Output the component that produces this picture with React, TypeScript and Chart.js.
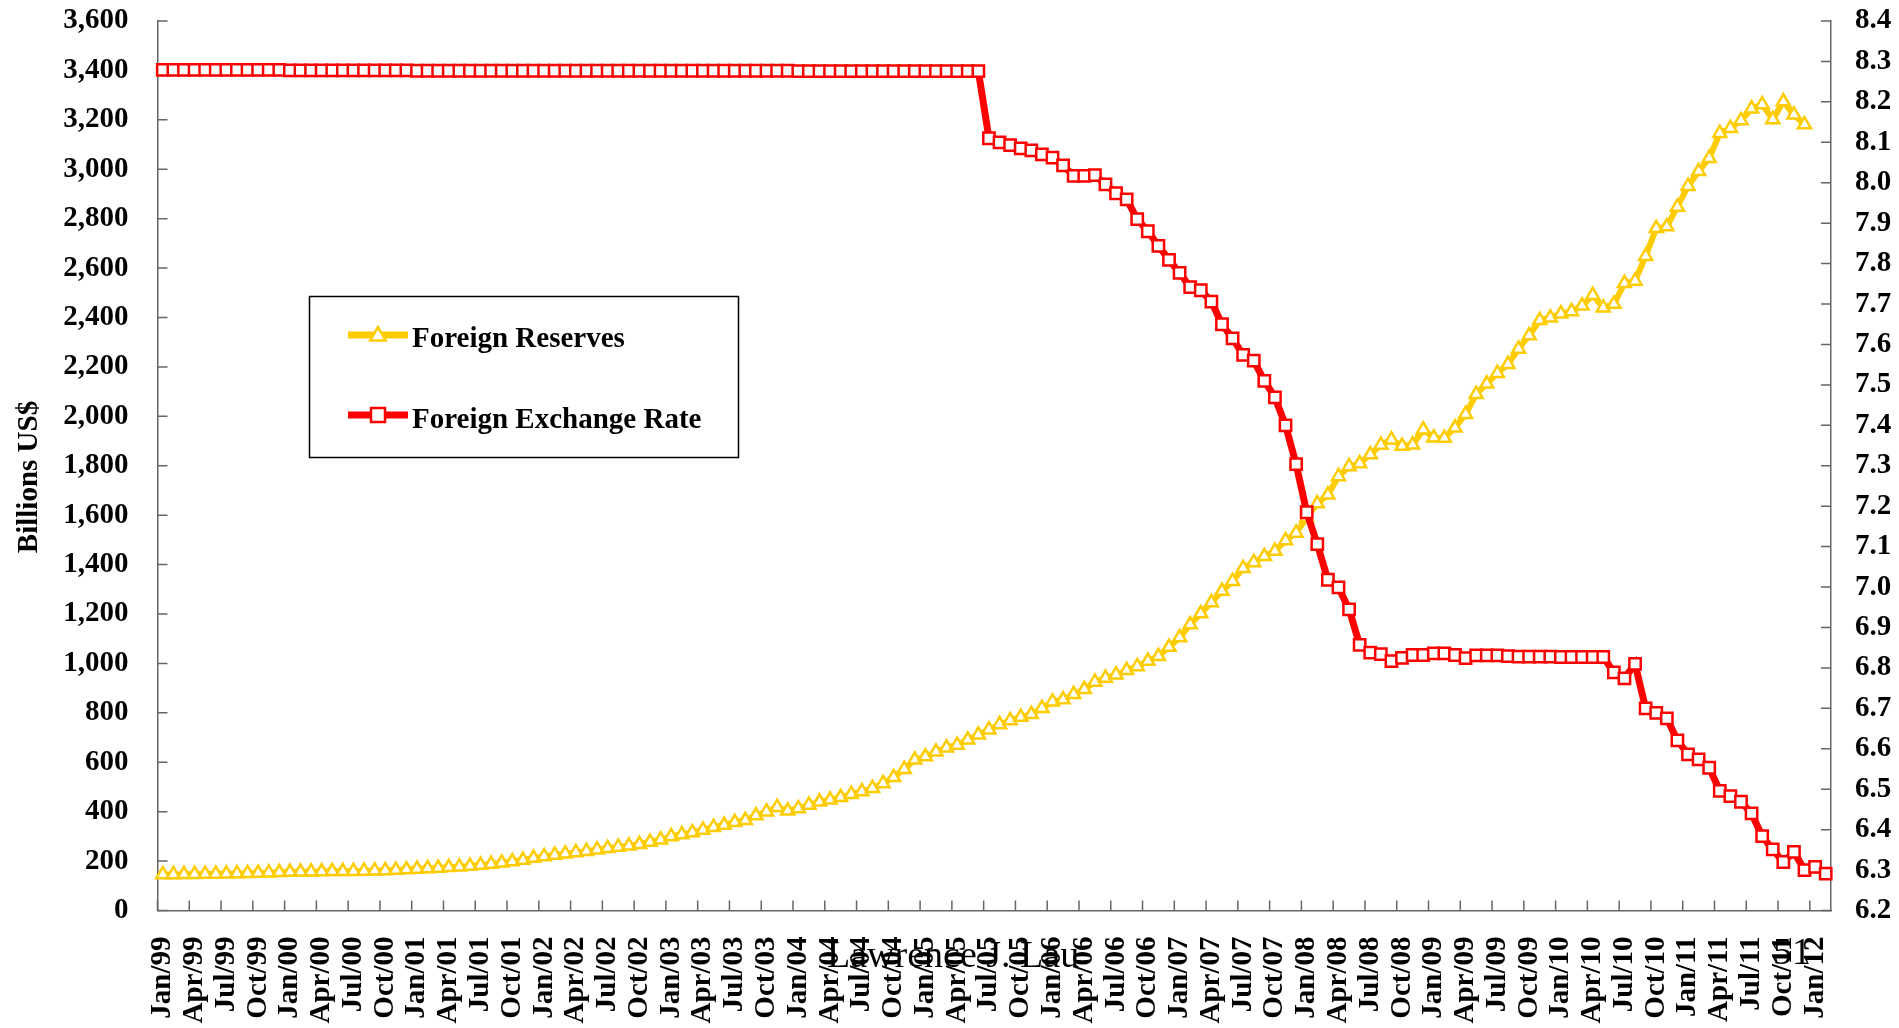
import React, { useEffect, useRef } from 'react';
import { Chart, registerables } from 'chart.js';

Chart.register(...registerables);

// ---------- data ----------
const categories: string[] = [
  'Jan/99','Feb/99','Mar/99','Apr/99','May/99','Jun/99','Jul/99','Aug/99','Sep/99','Oct/99','Nov/99','Dec/99',
  'Jan/00','Feb/00','Mar/00','Apr/00','May/00','Jun/00','Jul/00','Aug/00','Sep/00','Oct/00','Nov/00','Dec/00',
  'Jan/01','Feb/01','Mar/01','Apr/01','May/01','Jun/01','Jul/01','Aug/01','Sep/01','Oct/01','Nov/01','Dec/01',
  'Jan/02','Feb/02','Mar/02','Apr/02','May/02','Jun/02','Jul/02','Aug/02','Sep/02','Oct/02','Nov/02','Dec/02',
  'Jan/03','Feb/03','Mar/03','Apr/03','May/03','Jun/03','Jul/03','Aug/03','Sep/03','Oct/03','Nov/03','Dec/03',
  'Jan/04','Feb/04','Mar/04','Apr/04','May/04','Jun/04','Jul/04','Aug/04','Sep/04','Oct/04','Nov/04','Dec/04',
  'Jan/05','Feb/05','Mar/05','Apr/05','May/05','Jun/05','Jul/05','Aug/05','Sep/05','Oct/05','Nov/05','Dec/05',
  'Jan/06','Feb/06','Mar/06','Apr/06','May/06','Jun/06','Jul/06','Aug/06','Sep/06','Oct/06','Nov/06','Dec/06',
  'Jan/07','Feb/07','Mar/07','Apr/07','May/07','Jun/07','Jul/07','Aug/07','Sep/07','Oct/07','Nov/07','Dec/07',
  'Jan/08','Feb/08','Mar/08','Apr/08','May/08','Jun/08','Jul/08','Aug/08','Sep/08','Oct/08','Nov/08','Dec/08',
  'Jan/09','Feb/09','Mar/09','Apr/09','May/09','Jun/09','Jul/09','Aug/09','Sep/09','Oct/09','Nov/09','Dec/09',
  'Jan/10','Feb/10','Mar/10','Apr/10','May/10','Jun/10','Jul/10','Aug/10','Sep/10','Oct/10','Nov/10','Dec/10',
  'Jan/11','Feb/11','Mar/11','Apr/11','May/11','Jun/11','Jul/11','Aug/11','Sep/11','Oct/11','Nov/11','Dec/11',
  'Jan/12','Feb/12',
];

// Foreign reserves, billions US$ (Jan/99 - Dec/11)
const foreignReserves: number[] = [
  146.0, 146.0, 146.5, 147.0, 147.5, 148.0, 148.5, 149.5, 150.5, 151.5, 153.0, 154.7,
  155.5, 156.5, 157.0, 157.8, 158.5, 158.6, 159.0, 160.0, 161.0, 162.0, 163.5, 165.6,
  168, 170, 172, 175, 177, 180, 184, 188, 193, 198, 204, 212.2,
  219, 225, 230, 235, 240, 246, 252, 257, 262, 268, 277, 286.4,
  300, 308, 316, 326, 337, 346, 357, 365, 384, 400, 418, 403.3,
  413, 427, 439.8, 448, 458, 470.6, 482, 495, 514.5, 539, 572, 609.9,
  623, 642, 659.1, 670, 691, 711, 732, 753, 769, 783, 794, 818.9,
  845, 853.7, 875.1, 895, 925, 941.1, 954.5, 972, 987.9, 1009.6, 1029, 1066.3,
  1104.6, 1157.4, 1202, 1246.6, 1292.7, 1332.6, 1385.2, 1408.6, 1433.6, 1454.9, 1497, 1528.2,
  1589.8, 1647.1, 1682.2, 1756.7, 1797, 1808.8, 1845.2, 1884.2, 1905.6, 1879.7, 1884.7, 1946,
  1913.5, 1912.1, 1953.7, 2008.9, 2089.5, 2131.6, 2174.6, 2210.9, 2272.6, 2327.3, 2388.8, 2399.2,
  2415.2, 2424.6, 2447.1, 2490.5, 2439.5, 2454.3, 2538.4, 2547.8, 2648.3, 2760.9, 2767.8, 2847.3,
  2931.7, 2991.4, 3044.7, 3145.7, 3166.4, 3197.5, 3245.3, 3262.5, 3201.7, 3273.8, 3220.9, 3181.1,
];

// Foreign exchange rate, RMB per US$ (Jan/99 - Feb/12)
const exchangeRate: number[] = [
  8.279, 8.279, 8.279, 8.279, 8.279, 8.279, 8.279, 8.279, 8.279, 8.279, 8.279, 8.279,
  8.278, 8.278, 8.278, 8.278, 8.278, 8.278, 8.278, 8.278, 8.278, 8.278, 8.278, 8.278,
  8.277, 8.277, 8.277, 8.277, 8.277, 8.277, 8.277, 8.277, 8.277, 8.277, 8.277, 8.277,
  8.277, 8.277, 8.277, 8.277, 8.277, 8.277, 8.277, 8.277, 8.277, 8.277, 8.277, 8.277,
  8.277, 8.277, 8.277, 8.277, 8.277, 8.277, 8.277, 8.277, 8.277, 8.277, 8.277, 8.277,
  8.276, 8.276, 8.276, 8.276, 8.276, 8.276, 8.276, 8.276, 8.276, 8.276, 8.276, 8.276,
  8.276, 8.276, 8.276, 8.276, 8.276, 8.276, 8.11, 8.10, 8.093, 8.085, 8.08, 8.07,
  8.062, 8.043, 8.017, 8.017, 8.019, 7.996, 7.974, 7.959, 7.91, 7.88, 7.844, 7.809,
  7.777, 7.742, 7.734, 7.706, 7.65, 7.615, 7.574, 7.56, 7.51, 7.469, 7.40, 7.304,
  7.185, 7.106, 7.018, 6.999, 6.945, 6.857, 6.838, 6.834, 6.817, 6.825, 6.832, 6.832,
  6.836, 6.836, 6.832, 6.824, 6.831, 6.831, 6.831, 6.829, 6.828, 6.828, 6.828, 6.828,
  6.827, 6.827, 6.827, 6.827, 6.827, 6.789, 6.774, 6.81, 6.70, 6.689, 6.675, 6.621,
  6.586, 6.574, 6.553, 6.496, 6.483, 6.469, 6.44, 6.384, 6.351, 6.32, 6.345, 6.30,
  6.308, 6.291,
];

const seriesNames = ['Foreign Reserves', 'Foreign Exchange Rate'];
const leftAxisTitle = 'Billions US$';
const footerTexts = ['Lawrence J. Lau', '51'];
const TICK_EVERY = 3;

// ---------- styles ----------
const W = 1899;
const H = 1028;
const AREA_TOP = 21;
const AREA_BOTTOM = 910.5;
const AREA_LEFT = 157.5;
const AREA_RIGHT = 1831;
const FONT = '"Liberation Serif", "Times New Roman", Times, serif';
const GOLD = '#FFCC00';
const RED = '#FF0000';
const AXIS = '#666666';

function drawTriangle(ctx: CanvasRenderingContext2D, x: number, y: number, r: number) {
  ctx.beginPath();
  let rad = 0;
  ctx.moveTo(x + Math.sin(rad) * r, y - Math.cos(rad) * r);
  rad += (2 * Math.PI) / 3;
  ctx.lineTo(x + Math.sin(rad) * r, y - Math.cos(rad) * r);
  rad += (2 * Math.PI) / 3;
  ctx.lineTo(x + Math.sin(rad) * r, y - Math.cos(rad) * r);
  ctx.closePath();
}

const noPadding = (s: any) => {
  s.paddingTop = 0;
  s.paddingBottom = 0;
  s.paddingLeft = 0;
  s.paddingRight = 0;
};

const overlayPlugin = {
  id: 'overlay',
  beforeDatasetsDraw(chart: any) {
    const { ctx, chartArea: a, scales } = chart;
    const xs = scales.x;
    const yl = scales.y;
    const yr = scales.y1;
    ctx.save();
    ctx.strokeStyle = AXIS;
    ctx.lineWidth = 1.5;
    ctx.beginPath();
    const half = (xs.getPixelForValue(1) - xs.getPixelForValue(0)) / 2;
    for (let i = 0; i <= categories.length; i += TICK_EVERY) {
      const px = xs.getPixelForValue(i) - half;
      ctx.moveTo(px, a.bottom);
      ctx.lineTo(px, a.bottom - 10);
    }
    yl.ticks.forEach((t: any) => {
      const py = yl.getPixelForValue(t.value);
      ctx.moveTo(a.left, py);
      ctx.lineTo(a.left + 10, py);
    });
    yr.ticks.forEach((t: any) => {
      const py = yr.getPixelForValue(t.value);
      ctx.moveTo(a.right, py);
      ctx.lineTo(a.right - 10, py);
    });
    ctx.stroke();
    ctx.restore();
  },
  afterDraw(chart: any) {
    const { ctx } = chart;
    ctx.save();
    // y-axis title
    ctx.fillStyle = '#000';
    ctx.font = `bold 29px ${FONT}`;
    ctx.textAlign = 'center';
    ctx.textBaseline = 'alphabetic';
    ctx.translate(37, 477);
    ctx.rotate(-Math.PI / 2);
    ctx.fillText(leftAxisTitle, 0, 0);
    ctx.setTransform(1, 0, 0, 1, 0, 0);

    // legend box
    const bx = 309.5, by = 296.5, bw = 429, bh = 161;
    ctx.fillStyle = '#fff';
    ctx.fillRect(bx, by, bw, bh);
    ctx.strokeStyle = '#000';
    ctx.lineWidth = 1.5;
    ctx.strokeRect(bx, by, bw, bh);

    const ly1 = 335;
    ctx.strokeStyle = GOLD;
    ctx.lineWidth = 7;
    ctx.beginPath();
    ctx.moveTo(348, ly1);
    ctx.lineTo(408, ly1);
    ctx.stroke();
    drawTriangle(ctx, 378, ly1 + 1, 9);
    ctx.fillStyle = '#fff';
    ctx.fill();
    ctx.lineWidth = 2.5;
    ctx.stroke();

    const ly2 = 415;
    ctx.strokeStyle = RED;
    ctx.lineWidth = 7;
    ctx.beginPath();
    ctx.moveTo(348, ly2);
    ctx.lineTo(408, ly2);
    ctx.stroke();
    ctx.fillStyle = '#fff';
    ctx.fillRect(371, ly2 - 7, 14, 14);
    ctx.lineWidth = 2.5;
    ctx.strokeRect(371, ly2 - 7, 14, 14);

    ctx.fillStyle = '#000';
    ctx.font = `bold 29px ${FONT}`;
    ctx.textAlign = 'left';
    ctx.textBaseline = 'alphabetic';
    ctx.fillText(seriesNames[0], 412, 346.5);
    ctx.fillText(seriesNames[1], 412, 427.5);

    // overlay texts along the bottom
    ctx.font = `38px ${FONT}`;
    ctx.fillText(footerTexts[0], 827, 967);
    ctx.fillText(footerTexts[1], 1773, 964);
    ctx.restore();
  },
};

export default function App() {
  const canvasRef = useRef<HTMLCanvasElement | null>(null);

  useEffect(() => {
    const canvas = canvasRef.current;
    if (!canvas) return;
    Chart.defaults.font.family = FONT;
    const tickFont = { family: FONT, size: 29, weight: 'bold' as const };
    const chart = new Chart(canvas, {
      type: 'line',
      data: {
        labels: categories,
        datasets: [
          {
            label: seriesNames[0],
            data: foreignReserves,
            yAxisID: 'y',
            borderColor: GOLD,
            backgroundColor: '#ffffff',
            borderWidth: 6,
            pointStyle: 'triangle',
            pointRadius: 7.5,
            pointBorderWidth: 2.5,
            pointBackgroundColor: '#ffffff',
            pointBorderColor: GOLD,
            tension: 0,
            order: 2,
          },
          {
            label: seriesNames[1],
            data: exchangeRate,
            yAxisID: 'y1',
            borderColor: RED,
            backgroundColor: '#ffffff',
            borderWidth: 7,
            pointStyle: 'rect',
            pointRadius: 8,
            pointBorderWidth: 2.5,
            pointBackgroundColor: '#ffffff',
            pointBorderColor: RED,
            tension: 0,
            order: 1,
          },
        ],
      },
      options: {
        responsive: false,
        animation: false,
        devicePixelRatio: 1,
        layout: { padding: { top: AREA_TOP, left: 0, right: 0, bottom: 0 }, autoPadding: false },
        plugins: { legend: { display: false }, tooltip: { enabled: false } },
        scales: {
          x: {
            type: 'category',
            offset: true,
            grid: { display: false, drawTicks: false },
            border: { display: true, color: AXIS, width: 1.5 },
            ticks: {
              autoSkip: false,
              maxRotation: 90,
              minRotation: 90,
              padding: 26,
              font: tickFont,
              color: '#000',
              callback: (_v: any, i: number) => (i % TICK_EVERY === 0 ? categories[i] : ''),
            },
            afterFit: (s: any) => {
              s.height = H - AREA_BOTTOM;
              noPadding(s);
            },
          },
          y: {
            position: 'left',
            min: 0,
            max: 3600,
            grid: { display: false, drawTicks: false },
            border: { display: true, color: AXIS, width: 1.5 },
            ticks: {
              stepSize: 200,
              padding: 29,
              font: tickFont,
              color: '#000',
              callback: (v: any) => Number(v).toLocaleString('en-US'),
            },
            afterFit: (s: any) => {
              s.width = AREA_LEFT;
              noPadding(s);
            },
          },
          y1: {
            position: 'right',
            min: 6.2,
            max: 8.4,
            grid: { display: false, drawTicks: false },
            border: { display: true, color: AXIS, width: 1.5 },
            ticks: {
              stepSize: 0.1,
              padding: 24,
              font: tickFont,
              color: '#000',
              callback: (v: any) => Number(v).toFixed(1),
            },
            afterFit: (s: any) => {
              s.width = W - AREA_RIGHT;
              noPadding(s);
            },
          },
        },
      },
      plugins: [overlayPlugin],
    });
    return () => chart.destroy();
  }, []);

  return (
    <div style={{ position: 'absolute', left: 0, top: 0, width: W, height: H, background: '#fff' }}>
      <canvas ref={canvasRef} width={W} height={H} style={{ display: 'block' }} />
    </div>
  );
}
